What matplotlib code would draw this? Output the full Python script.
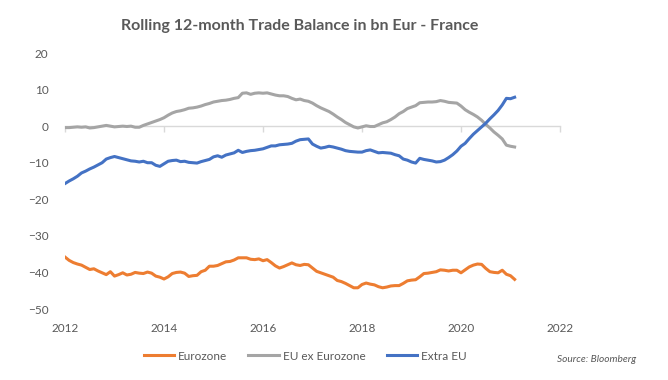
import numpy as np
import pandas as pd
import matplotlib
matplotlib.use("Agg")
import matplotlib.pyplot as plt

# Monthly values, Jan 2012 .. Feb 2021 (bn EUR)
months = pd.date_range("2012-01-01", "2021-02-01", freq="MS")

eurozone = [
    -35.8, -36.7, -37.3, -37.7, -38.0, -38.6, -39.2, -39.0, -39.6, -40.1, -40.6, -39.8,
    -41.0, -40.6, -40.1, -40.7, -40.5, -40.0, -40.2, -40.3, -39.9, -40.2, -41.0, -41.3,
    -41.8, -41.2, -40.3, -40.0, -39.9, -40.2, -41.1, -40.9, -40.8, -39.8, -39.4, -38.3,
    -38.3, -38.1, -37.6, -37.1, -37.0, -36.6, -36.0, -36.0, -36.0, -36.4, -36.5, -36.3,
    -36.8, -36.5, -37.3, -38.2, -38.8, -38.4, -37.9, -37.4, -37.9, -38.1, -37.8, -37.9,
    -38.8, -39.7, -40.1, -40.5, -40.9, -41.3, -42.2, -42.5, -43.0, -43.6, -44.2, -44.2,
    -43.3, -42.9, -43.2, -43.4, -43.9, -44.2, -44.0, -43.7, -43.6, -43.6, -43.0, -42.3,
    -42.1, -42.0, -41.2, -40.3, -40.2, -40.0, -39.8, -39.3, -39.4, -39.6, -39.4, -39.4,
    -40.1, -39.3, -38.5, -38.0, -37.7, -37.8, -38.9, -39.8, -40.0, -40.1, -39.4, -40.5,
    -40.9, -41.9,
]

eu_ex_eurozone = [
    -0.4, -0.4, -0.3, -0.2, -0.3, -0.2, -0.5, -0.4, -0.2, 0.0, 0.2, 0.0,
    -0.2, -0.1, 0.0, -0.1, 0.0, -0.3, -0.3, 0.2, 0.6, 1.0, 1.4, 1.8,
    2.3, 3.0, 3.6, 4.0, 4.2, 4.5, 4.9, 5.0, 5.2, 5.5, 5.9, 6.2,
    6.6, 6.8, 7.0, 7.1, 7.3, 7.6, 7.8, 9.0, 9.1, 8.7, 9.0, 9.1,
    9.0, 9.1, 8.8, 8.5, 8.3, 8.3, 8.1, 7.6, 7.2, 7.4, 7.0, 6.8,
    6.3, 5.6, 5.0, 4.5, 4.0, 3.3, 2.5, 1.8, 1.0, 0.4, -0.2, -0.5,
    -0.2, 0.1, -0.1, -0.1, 0.4, 0.9, 1.2, 1.8, 2.5, 3.4, 4.0, 4.8,
    5.2, 5.6, 6.4, 6.5, 6.6, 6.6, 6.7, 7.0, 6.8, 6.5, 6.4, 6.3,
    5.5, 4.5, 3.8, 3.2, 2.5, 1.6, 0.5, -0.5, -1.6, -2.5, -3.5, -5.2,
    -5.5, -5.7,
]

extra_eu = [
    -15.7, -15.0, -14.4, -13.7, -12.8, -12.3, -11.7, -11.2, -10.6, -10.0, -9.0, -8.6,
    -8.3, -8.6, -8.9, -9.2, -9.5, -9.6, -9.8, -9.6, -10.0, -10.0, -10.7, -11.0,
    -10.3, -9.6, -9.4, -9.3, -9.7, -9.6, -9.9, -10.0, -10.1, -9.7, -9.4, -9.1,
    -8.4, -8.1, -8.5, -7.9, -7.6, -7.3, -6.6, -7.2, -6.9, -6.7, -6.6, -6.4,
    -6.2, -5.8, -5.4, -5.4, -5.1, -5.0, -4.9, -4.7, -4.1, -3.7, -3.6, -3.5,
    -4.9, -5.5, -6.0, -5.8, -5.5, -5.7, -6.0, -6.3, -6.7, -6.9, -7.0, -7.1,
    -7.1, -6.7, -6.5, -6.9, -7.3, -7.2, -7.3, -7.4, -7.8, -8.1, -9.0, -9.3,
    -9.8, -10.1, -8.8, -9.1, -9.3, -9.5, -9.8, -9.7, -9.3, -8.6, -7.8, -6.8,
    -5.5, -4.7, -3.4, -2.2, -1.2, -0.2, 0.8, 2.0, 3.1, 4.3, 5.8, 7.6,
    7.5, 7.9,
]

x_ticks = [2012, 2014, 2016, 2018, 2020, 2022]
y_ticks = [20, 10, 0, -10, -20, -30, -40, -50]

TEXT = "#595959"
plt.rcParams["font.family"] = ["Lato", "DejaVu Sans"]

# decimal years for the x axis
t = months.year + (months.month - 1) / 12.0

fig = plt.figure(figsize=(6.68, 3.80), dpi=100)
ax = fig.add_axes([65 / 668, 1 - 309 / 380, (560 - 65) / 668, (309 - 53) / 380])

ax.plot(t, eurozone, color="#ED7D31", linewidth=2.2, label="Eurozone")
ax.plot(t, eu_ex_eurozone, color="#A5A5A5", linewidth=2.2, label="EU ex Eurozone")
ax.plot(t, extra_eu, color="#4472C4", linewidth=2.2, label="Extra EU")

ax.set_xlim(x_ticks[0], x_ticks[-1])
ax.set_ylim(min(y_ticks), max(y_ticks))
ax.set_xticks(x_ticks)
ax.set_yticks(y_ticks)
for s in ax.spines.values():
    s.set_visible(False)
ax.tick_params(axis="both", length=0, labelsize=8.5, colors=TEXT)
ax.tick_params(axis="x", pad=10)
ax.tick_params(axis="y", pad=12)

# zero line with small tick marks, like the category axis in Excel
zero = ax.secondary_xaxis(0, transform=ax.transData)
zero.set_xticks(x_ticks)
zero.set_xticklabels([])
zero.tick_params(axis="x", direction="out", length=4, color="#D9D9D9", width=1)
zero.spines["bottom"].set_color("#D9D9D9")
zero.spines["bottom"].set_linewidth(1)
ax.set_zorder(zero.get_zorder() + 1)

fig.text(300 / 668, 1 - 26 / 380, "Rolling 12-month Trade Balance in bn Eur - France",
         ha="center", va="center", fontsize=11.5, fontweight="bold", color=TEXT)

fig.legend(loc="center", bbox_to_anchor=(305 / 668, 1 - 356 / 380), ncol=3,
           frameon=False, fontsize=8.5, labelcolor=TEXT, handlelength=2.6,
           handletextpad=0.3, columnspacing=1.8)

fig.text(636 / 668, 1 - 359 / 380, "Source: Bloomberg", ha="right", va="center",
         fontsize=7.3, style="italic", color=TEXT)

fig.savefig("out.png", dpi=100)
